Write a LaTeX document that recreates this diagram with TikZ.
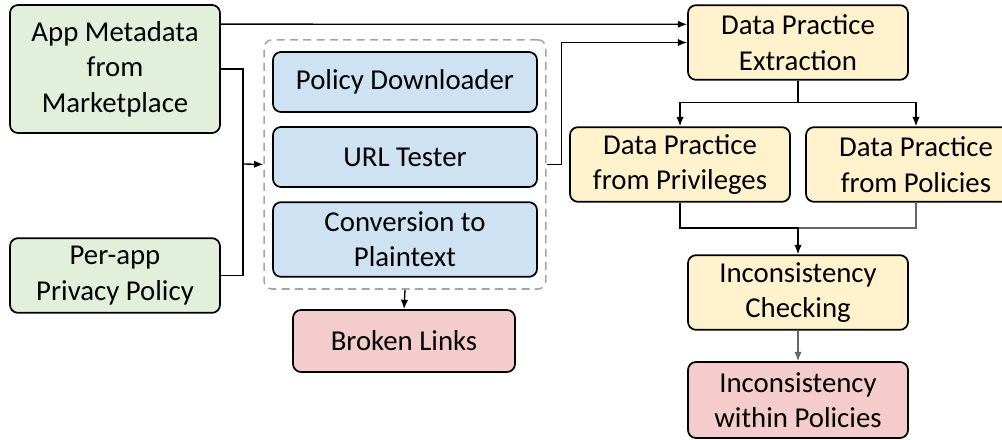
\documentclass[tikz,border=0pt]{standalone}
\usepackage{fontspec}
\setmainfont{Carlito}
\usetikzlibrary{arrows.meta,fit}

\definecolor{srcgreen}{HTML}{E2EFDA}
\definecolor{toolblue}{HTML}{CFE2F3}
\definecolor{procyellow}{HTML}{FFF2CC}
\definecolor{outred}{HTML}{F4CCCC}
\definecolor{lightgray}{HTML}{A6A6A6}
\definecolor{darkgray}{HTML}{666666}

\tikzset{
  blk/.style={draw=black, line width=1.3pt, rounded corners=6pt, align=center,
    inner sep=0pt, minimum width=165pt, minimum height=56pt,
    font=\fontsize{21.6}{26.5}\selectfont},
  src/.style={blk, fill=srcgreen, minimum width=157.5pt},
  tool/.style={blk, fill=toolblue, minimum width=198pt, minimum height=45pt},
  proc/.style={blk, fill=procyellow},
  res/.style={blk, fill=outred},
  link/.style={line width=1pt, -{Latex[length=7pt,width=5.5pt]}},
  wire/.style={line width=1pt}
}

\begin{document}
\begin{tikzpicture}[x=0.75pt, y=-0.75pt]
  \useasboundingbox (0,0) rectangle (1002,439);

  % inputs
  \node[src, minimum height=96pt] (app) at (115,69) {App Metadata\\from\\Marketplace};
  \node[src] (pp) at (115,275.5) {Per-app\\Privacy Policy};

  % policy fetching
  \node[tool] (dl) at (405,82) {Policy Downloader};
  \node[tool] (url) at (405,157) {URL Tester};
  \node[tool, minimum height=56pt] (conv) at (405,239.5) {Conversion to\\Plaintext};
  \node[draw=lightgray, line width=1.2pt, dash pattern=on 6pt off 4pt, rounded corners=6pt,
    inner xsep=6pt, inner ysep=8.5pt, fit=(dl)(conv)] (grp) {};
  \node[res, minimum width=166.5pt, minimum height=46.5pt] (brk) at (404,341) {Broken Links};

  % practice extraction and checking
  \node[proc] (extr) at (798,42.5) {Data Practice\\Extraction};
  \node[proc] (priv) at (680,164.5) {Data Practice\\from Privileges};
  \node[proc] (pol) at (916,164.5) {Data Practice\\from Policies};
  \node[proc] (chk) at (798,292.5) {Inconsistency\\Checking};
  \node[res, minimum height=57pt] (inc) at (798,400) {Inconsistency\\within Policies};

  \coordinate (mrg) at (243,164);
  \coordinate (jn) at (798,228);

  \draw[link] ([yshift=-15pt]app.north east) -- ([yshift=-15pt]extr.north west);
  \draw[wire] (app.east) -| (mrg);
  \draw[wire] (pp.east) -| (mrg);
  \draw[link] (mrg) -- (grp.west);
  \draw[link] (grp.east) -- ++(15,0) |- (extr.west);
  \draw[link] (grp.south) -- (brk.north);

  \draw[link] (extr.south) -- ++(0,22) -| (priv.north);
  \draw[link] (extr.south) -- ++(0,22) -| (pol.north);
  \draw[wire, darkgray] (pol.south) |- (jn);
  \draw[link] (priv.south) |- (jn) -- (chk.north);
  \draw[link, darkgray] (chk.south) -- (inc.north);
\end{tikzpicture}
\end{document}
